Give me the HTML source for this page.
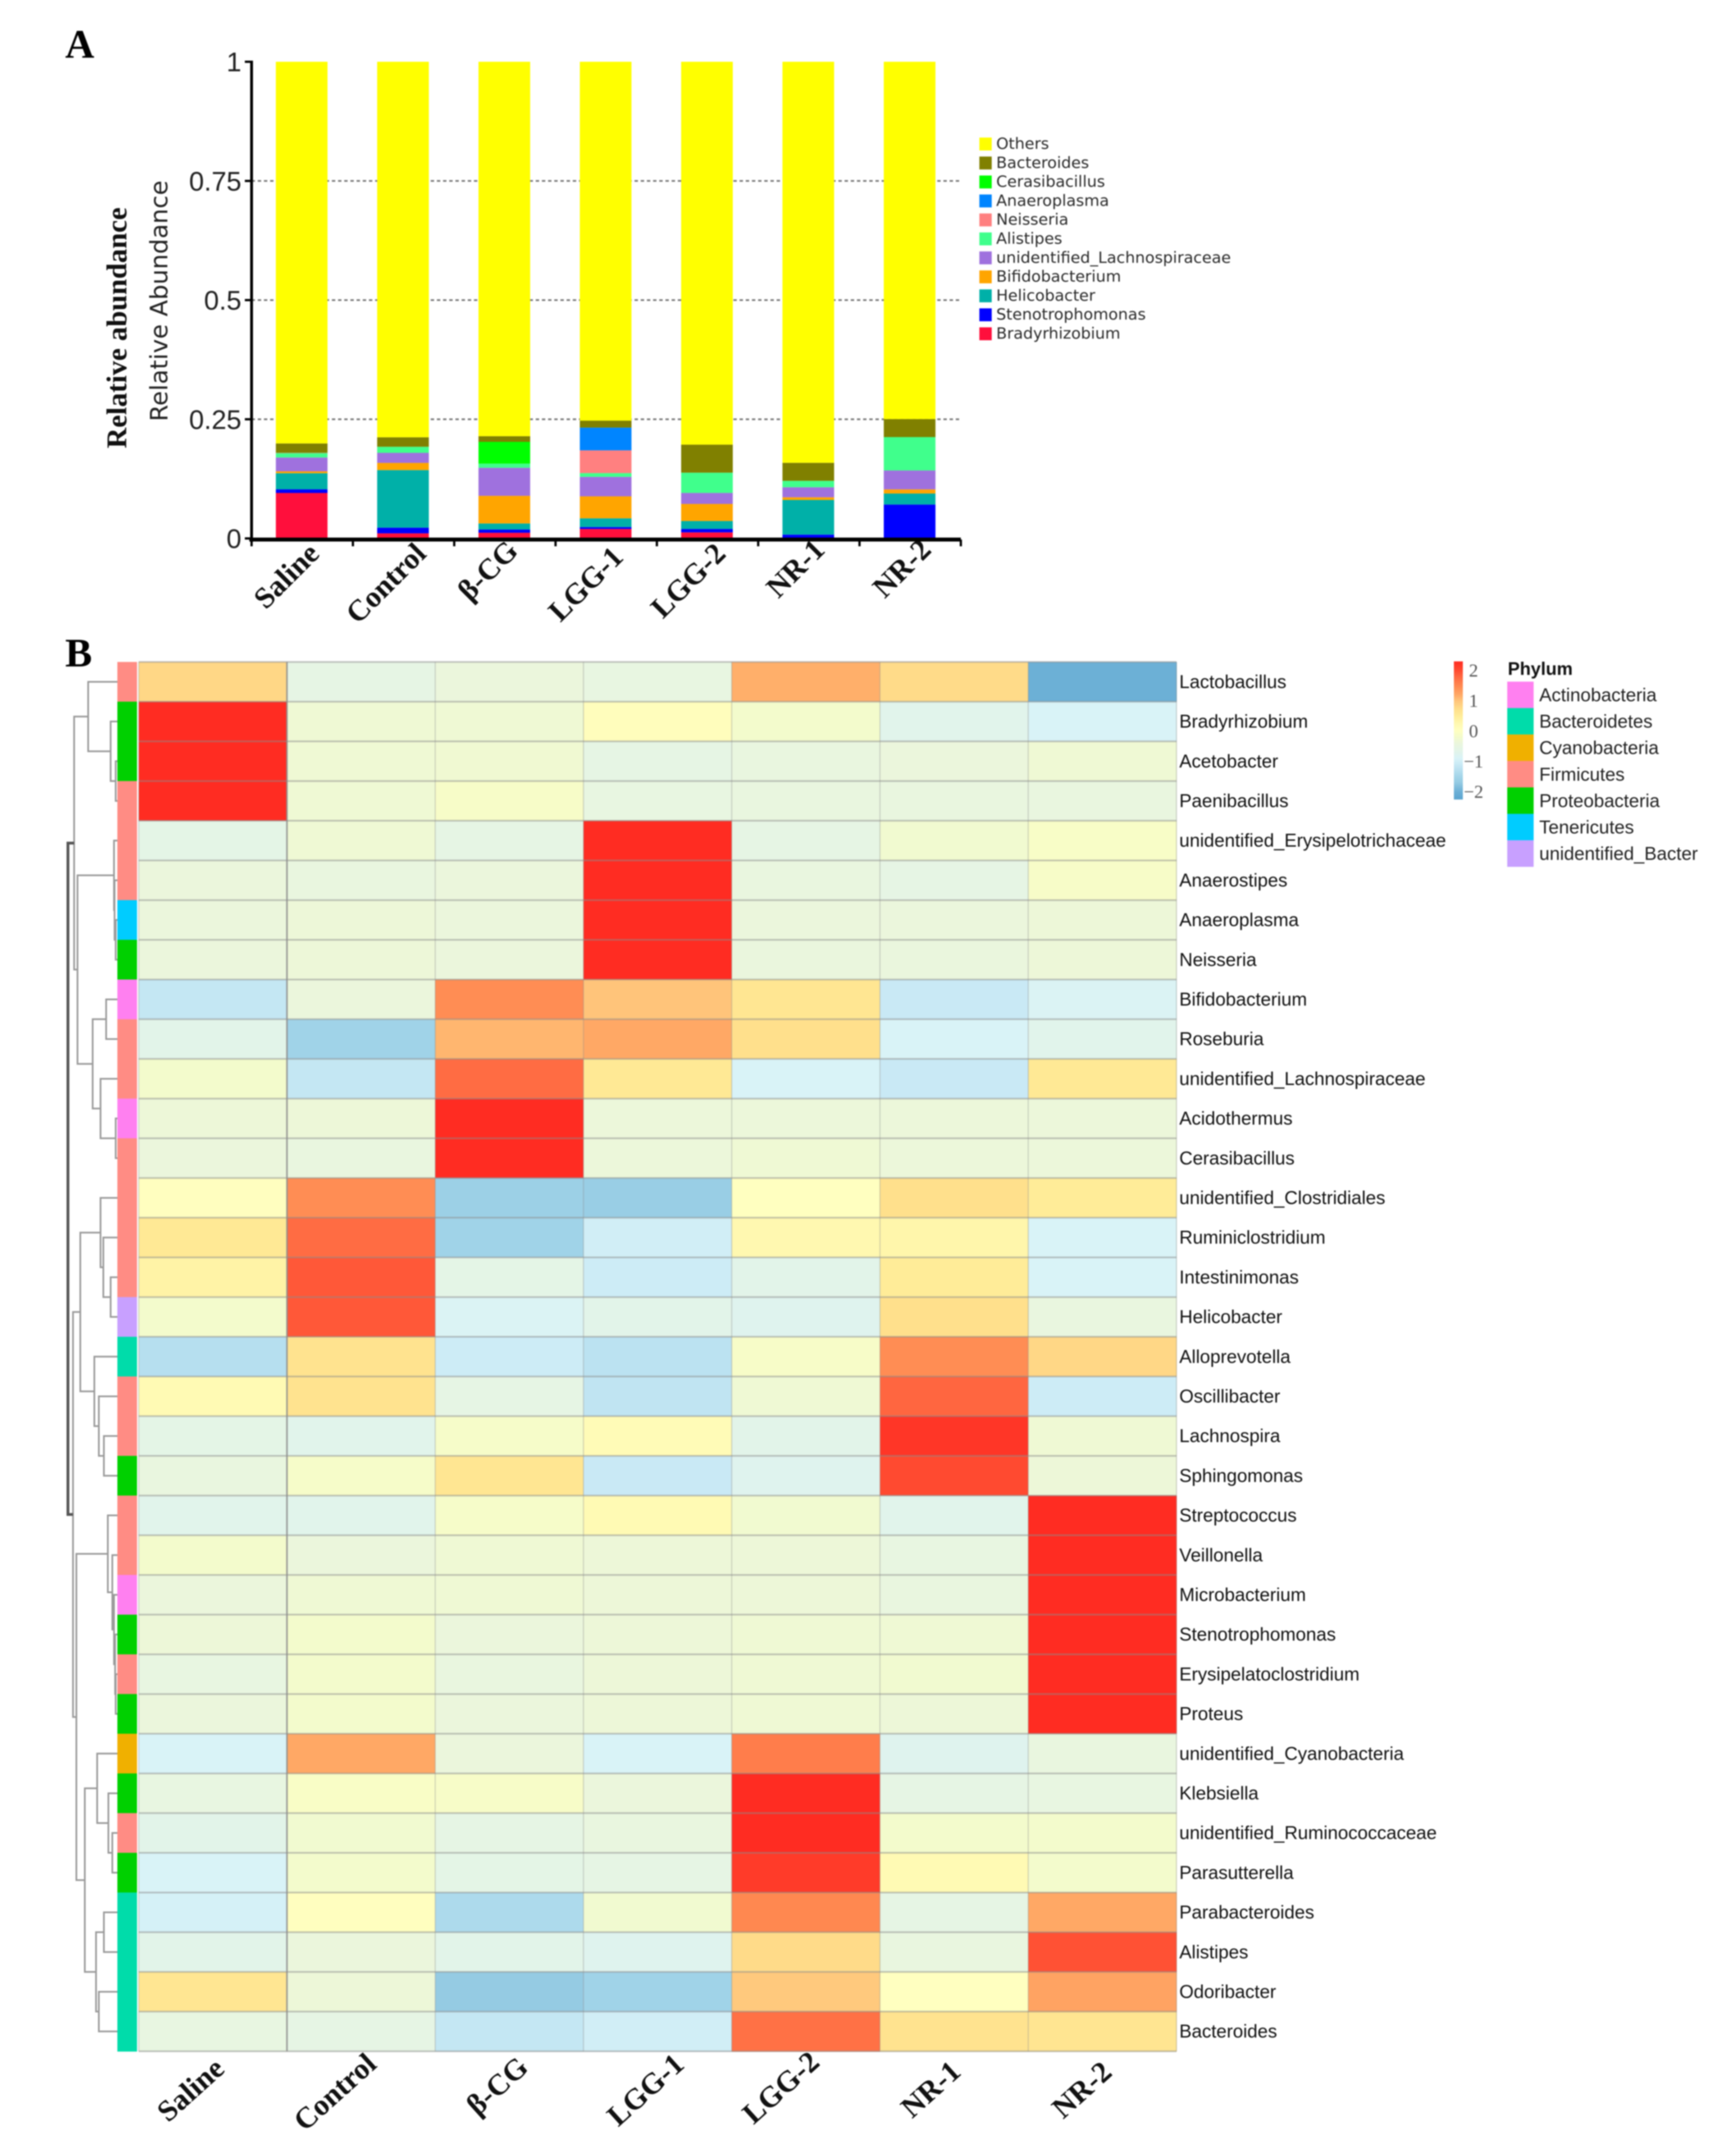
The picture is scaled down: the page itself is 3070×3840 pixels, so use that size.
<!DOCTYPE html>
<html lang="en">
<head>
<meta charset="utf-8">
<title>Relative abundance bar chart and phylum heatmap</title>
<style>
html,body{margin:0;padding:0;background:#fff;}
#figure{display:block;width:3070px;height:3840px;filter:blur(1.1px);}
</style>
</head>
<body>
<svg id="figure" xmlns="http://www.w3.org/2000/svg" width="3070" height="3840" viewBox="0 0 3070 3840">
  <rect x="0" y="0" width="3070" height="3840" fill="#ffffff"/>
  <text x="116" y="103" font-family="'Liberation Serif',serif" font-weight="700" font-size="72" fill="#000">A</text>
  <text x="116" y="1187" font-family="'Liberation Serif',serif" font-weight="700" font-size="72" fill="#000">B</text>
  <g id="panelA">
    <text transform="translate(225,584) rotate(-90)" text-anchor="middle" font-family="'Liberation Serif',serif" font-weight="700" font-size="51" fill="#111">Relative abundance</text>
    <text transform="translate(298,536) rotate(-90)" text-anchor="middle" font-family="'DejaVu Sans',sans-serif" font-size="43" fill="#222">Relative Abundance</text>
  </g>
  <g id="panelB">
    <text x="2685" y="1202" font-family="'Liberation Sans',sans-serif" font-weight="700" font-size="32" fill="#111">Phylum</text>
  </g>
</svg>
<script>
/* ---------- Panel A data ---------- */
var barCategories = ['Saline','Control','β-CG','LGG-1','LGG-2','NR-1','NR-2'];
var yTickValues = [0,0.25,0.5,0.75,1];
var yTickLabels = ['0','0.25','0.5','0.75','1'];
var gridValues = [0.25,0.5,0.75];
var bradyrhizobiumValues    = [0.0954,0.0107,0.0119,0.0199,0.0127,0.0000,0.0000];
var stenotrophomonasValues  = [0.0076,0.0119,0.0068,0.0040,0.0072,0.0080,0.0711];
var helicobacterValues      = [0.0338,0.1208,0.0127,0.0183,0.0167,0.0727,0.0231];
var bifidobacteriumValues   = [0.0040,0.0151,0.0580,0.0461,0.0358,0.0056,0.0087];
var lachnospiraceaeValues   = [0.0290,0.0211,0.0588,0.0409,0.0231,0.0211,0.0397];
var alistipesValues         = [0.0087,0.0127,0.0087,0.0079,0.0425,0.0135,0.0700];
var neisseriaValues         = [0.0005,0.0000,0.0000,0.0477,0.0000,0.0000,0.0000];
var anaeroplasmaValues      = [0.0003,0.0000,0.0000,0.0477,0.0000,0.0000,0.0000];
var cerasibacillusValues    = [0.0005,0.0000,0.0457,0.0000,0.0000,0.0000,0.0000];
var bacteroidesValues       = [0.0195,0.0199,0.0119,0.0147,0.0588,0.0378,0.0378];
var othersValues            = [0.8007,0.7878,0.7855,0.7528,0.8032,0.8413,0.7496];
var stackOrder = [
  ['Bradyrhizobium',bradyrhizobiumValues,'#ff0f3c'],
  ['Stenotrophomonas',stenotrophomonasValues,'#0000ff'],
  ['Helicobacter',helicobacterValues,'#00b0a8'],
  ['Bifidobacterium',bifidobacteriumValues,'#ffa500'],
  ['unidentified_Lachnospiraceae',lachnospiraceaeValues,'#9f71de'],
  ['Alistipes',alistipesValues,'#40ff8c'],
  ['Neisseria',neisseriaValues,'#ff8080'],
  ['Anaeroplasma',anaeroplasmaValues,'#0085ff'],
  ['Cerasibacillus',cerasibacillusValues,'#00ff00'],
  ['Bacteroides',bacteroidesValues,'#808000'],
  ['Others',othersValues,'#ffff00']
];

/* ---------- Panel B data ---------- */
var heatColumns = ['Saline','Control','β-CG','LGG-1','LGG-2','NR-1','NR-2'];
var heatRows = ['Lactobacillus','Bradyrhizobium','Acetobacter','Paenibacillus','unidentified_Erysipelotrichaceae','Anaerostipes','Anaeroplasma','Neisseria','Bifidobacterium','Roseburia','unidentified_Lachnospiraceae','Acidothermus','Cerasibacillus','unidentified_Clostridiales','Ruminiclostridium','Intestinimonas','Helicobacter','Alloprevotella','Oscillibacter','Lachnospira','Sphingomonas','Streptococcus','Veillonella','Microbacterium','Stenotrophomonas','Erysipelatoclostridium','Proteus','unidentified_Cyanobacteria','Klebsiella','unidentified_Ruminococcaceae','Parasutterella','Parabacteroides','Alistipes','Odoribacter','Bacteroides'];
var heatValues = [
[0.8,-0.55,-0.4,-0.5,1.15,0.75,-2.0],
[2.3,-0.3,-0.3,0.08,-0.2,-0.7,-0.9],
[2.3,-0.3,-0.28,-0.55,-0.45,-0.4,-0.3],
[2.3,-0.3,-0.12,-0.5,-0.45,-0.45,-0.45],
[-0.6,-0.3,-0.55,2.3,-0.55,-0.25,-0.1],
[-0.4,-0.45,-0.4,2.3,-0.45,-0.55,-0.12],
[-0.4,-0.35,-0.4,2.3,-0.4,-0.4,-0.35],
[-0.4,-0.35,-0.4,2.3,-0.42,-0.42,-0.35],
[-1.15,-0.4,1.45,1.0,0.6,-1.1,-0.85],
[-0.65,-1.55,1.1,1.2,0.7,-0.9,-0.7],
[-0.2,-1.15,1.75,0.55,-0.9,-1.1,0.55],
[-0.35,-0.35,2.3,-0.38,-0.38,-0.38,-0.38],
[-0.4,-0.45,2.3,-0.38,-0.3,-0.38,-0.38],
[0.05,1.45,-1.6,-1.65,0.03,0.7,0.5],
[0.55,1.75,-1.55,-1.0,0.25,0.3,-0.9],
[0.35,1.9,-0.6,-1.05,-0.65,0.5,-0.9],
[-0.2,1.9,-0.85,-0.65,-0.75,0.7,-0.45],
[-1.3,0.65,-1.05,-1.25,-0.12,1.45,0.8],
[0.2,0.65,-0.55,-1.2,-0.3,1.8,-1.05],
[-0.6,-0.7,-0.15,0.15,-0.65,2.2,-0.3],
[-0.45,-0.15,0.6,-1.1,-0.75,2.0,-0.35],
[-0.7,-0.7,-0.15,0.2,-0.25,-0.7,2.3],
[-0.2,-0.4,-0.3,-0.35,-0.35,-0.5,2.3],
[-0.4,-0.3,-0.3,-0.35,-0.35,-0.45,2.3],
[-0.35,-0.2,-0.4,-0.35,-0.3,-0.3,2.3],
[-0.5,-0.2,-0.45,-0.35,-0.3,-0.25,2.3],
[-0.4,-0.2,-0.4,-0.35,-0.3,-0.35,2.3],
[-0.9,1.2,-0.4,-0.9,1.6,-0.75,-0.45],
[-0.5,-0.08,-0.12,-0.4,2.3,-0.55,-0.5],
[-0.65,-0.25,-0.55,-0.45,2.3,-0.2,-0.2],
[-0.9,-0.2,-0.6,-0.55,2.15,0.2,-0.2],
[-0.95,0.05,-1.4,-0.25,1.5,-0.55,1.2],
[-0.65,-0.4,-0.65,-0.75,0.75,-0.45,1.95],
[0.6,-0.35,-1.7,-1.55,0.95,0.03,1.25],
[-0.5,-0.55,-1.15,-1.0,1.7,0.65,0.62]
];
var rowPhylum = ['Firmicutes','Proteobacteria','Proteobacteria','Firmicutes','Firmicutes','Firmicutes','Tenericutes','Proteobacteria','Actinobacteria','Firmicutes','Firmicutes','Actinobacteria','Firmicutes','Firmicutes','Firmicutes','Firmicutes','unidentified_Bacter','Bacteroidetes','Firmicutes','Firmicutes','Proteobacteria','Firmicutes','Firmicutes','Actinobacteria','Proteobacteria','Firmicutes','Proteobacteria','Cyanobacteria','Proteobacteria','Firmicutes','Proteobacteria','Bacteroidetes','Bacteroidetes','Bacteroidetes','Bacteroidetes'];
var phylumNames = ['Actinobacteria','Bacteroidetes','Cyanobacteria','Firmicutes','Proteobacteria','Tenericutes','unidentified_Bacter'];
var phylumColors = ['#ff80f0','#00dcaa','#f0b000','#ff8c84','#00d000','#00ccff','#c8a0ff'];
var colorbarTicks = [2,1,0,-1,-2];
var colorbarTickLabels = ['2','1','0','−1','−2'];
var colorScaleValues = [-2.3,-2,-1.7,-1.5,-1.2,-1.05,-0.9,-0.75,-0.6,-0.4,-0.2,0.03,0.25,0.5,0.7,1,1.2,1.5,1.8,2,2.3];
var colorScaleColors = ['#5aa4d0','#6cb0d6','#95cbe3','#a3d5e9','#c0e4f2','#cdecf6','#d9f3f7','#dff3ee','#e4f5e6','#ebf6dc','#f3fbcc','#ffffc0','#fff8b0','#ffec98','#ffe08c','#ffc47a','#ffa865','#ff8850','#ff6640','#ff4a30','#ff2c22'];
/* Row-clustering tree: [merge height, left, right]; leaves are row indexes */
var clusterTree = [88,
  [77,
    [52, 0, [12, 1, [3, 2, 3]]],
    [71,
      [6, 4, [5, 5, [3, 6, 7]]],
      [44,
        [20, 8, 9],
        [30, 10, [3, 11, 12]]
      ]
    ]
  ],
  [79,
    [66,
      [30, 13, [25, 14, [12, 15, 16]]],
      [41, 17, [33, 18, [24, 19, 20]]]
    ],
    [73,
      [17, 21, [9, 22, [6, 23, [4, 24, [3, 25, 26]]]]],
      [58,
        [36, 27, [16, 28, [9, 29, 30]]],
        [38, [24, 31, 32], [33, 33, 34]]
      ]
    ]
  ]
];

/* ---------- helpers ---------- */
var NS = 'http://www.w3.org/2000/svg';
var panelA = document.getElementById('panelA');
var panelB = document.getElementById('panelB');
function mk(tag, parent, attrs, txt){
  var e = document.createElementNS(NS, tag);
  for (var k in attrs) e.setAttribute(k, attrs[k]);
  if (txt !== undefined) e.textContent = txt;
  parent.appendChild(e);
  return e;
}
function slug(s){ return s.toLowerCase().replace(/[^a-z0-9]+/g,'-').replace(/^-|-$/g,''); }

/* ---------- Panel A scales ---------- */
var axisLeft = 448, axisRight = 1711, axisZero = 959, axisOne = 110, barWidth = 92;
function yScale(v){ return axisZero - v * (axisZero - axisOne); }
function bandWidth(){ return (axisRight - axisLeft) / barCategories.length; }
function xCenter(i){ return axisLeft + bandWidth() * (i + 0.5) - 1; }

gridValues.forEach(function(v){
  var el = mk('line', panelA, {x1:axisLeft, x2:axisRight, y1:yScale(v), y2:yScale(v), stroke:'#777', 'stroke-width':3, 'stroke-dasharray':'6 5'});
  
  
});

function barLabelDx(i){ return [0,10,-7,0,2,-2,7][i]; }
function barLabelDy(i){ return [12,12,7,18,12,5,5][i]; }
barCategories.forEach(function(cat, i){
  var cum = 0;
  stackOrder.forEach(function(s){
    var v = s[1][i];
    if (v <= 0) return;
    var y0 = yScale(Math.min(cum, 1)), y1 = yScale(Math.min(cum + v, 1));
    var el = mk('rect', panelA, {x:xCenter(i) - barWidth/2, y:y1, width:barWidth, height:Math.max(y0 - y1, 0), fill:s[2]});
    
    
    cum += v;
  });
  var lab = mk('text', panelA, {transform:'translate(' + (xCenter(i) + 34 + barLabelDx(i)) + ',' + (977 + barLabelDy(i)) + ') rotate(-45)', 'text-anchor':'end', 'font-family':"'Liberation Serif',serif", 'font-weight':700, 'font-size':53, fill:'#111'}, cat);
  
  
});

var yAxisLine = mk('line', panelA, {x1:axisLeft, x2:axisLeft, y1:axisOne - 2, y2:axisZero + 6, stroke:'#000', 'stroke-width':5});


var xAxisLine = mk('line', panelA, {x1:axisLeft - 4, x2:axisRight, y1:axisZero + 2, y2:axisZero + 2, stroke:'#000', 'stroke-width':7});



yTickValues.forEach(function(v, i){
  var t = mk('line', panelA, {x1:axisLeft - 12, x2:axisLeft, y1:yScale(v), y2:yScale(v), stroke:'#000', 'stroke-width':4});
  
  
  var lb = mk('text', panelA, {x:axisLeft - 18, y:yScale(v) + 17, 'text-anchor':'end', 'font-family':"'Liberation Sans',sans-serif", 'font-size':48, fill:'#222'}, yTickLabels[i]);
  
  
});
for (var xt = 0; xt <= barCategories.length; xt++){
  var tx = axisLeft + bandWidth() * xt;
  var tick = mk('line', panelA, {x1:tx, x2:tx, y1:axisZero + 2, y2:axisZero + 14, stroke:'#000', 'stroke-width':4});
  
  
}

/* Panel A legend (reverse stack order) */
stackOrder.slice().reverse().forEach(function(s, i){
  var ly = 245 + i * 33.8;
  var sw = mk('rect', panelA, {x:1744, y:ly, width:22, height:23, fill:s[2]});
  
  
  var tx2 = mk('text', panelA, {x:1774, y:ly + 20, 'font-family':"'DejaVu Sans',sans-serif", 'font-size':28, fill:'#2b2b2b'}, s[0]);
  
  
});

/* ---------- Panel B scales ---------- */
var heatLeft = 247, heatTop = 1179, colWidth = 264, rowHeight = 70.7, stripLeft = 209, stripWidth = 35;
function colX(i){ return heatLeft + i * colWidth; }
function rowY(i){ return heatTop + i * rowHeight; }
function hex(c){ return [parseInt(c.substr(1,2),16), parseInt(c.substr(3,2),16), parseInt(c.substr(5,2),16)]; }
function colorFor(v){
  var vs = colorScaleValues, cs = colorScaleColors;
  if (v <= vs[0]) return cs[0];
  if (v >= vs[vs.length-1]) return cs[cs.length-1];
  for (var i = 1; i < vs.length; i++){
    if (v <= vs[i]){
      var t = (v - vs[i-1]) / (vs[i] - vs[i-1]), a = hex(cs[i-1]), b = hex(cs[i]);
      return 'rgb(' + [0,1,2].map(function(k){ return Math.round(a[k] + (b[k]-a[k]) * t); }).join(',') + ')';
    }
  }
}

/* Heatmap cells */
heatValues.forEach(function(row, r){
  row.forEach(function(v, c){
    var cell = mk('rect', panelB, {x:colX(c), y:rowY(r), width:colWidth + 0.5, height:rowHeight + 0.5, fill:colorFor(v)});
    
    
  });
});
/* Grid lines */
for (var gr = 0; gr <= heatRows.length; gr++){
  var hl = mk('line', panelB, {x1:heatLeft, x2:colX(7), y1:rowY(gr), y2:rowY(gr), stroke:'#8c8c8c', 'stroke-opacity':0.5, 'stroke-width':3});
  
  
}
for (var gc = 0; gc <= heatColumns.length; gc++){
  var vl = mk('line', panelB, {x1:colX(gc), x2:colX(gc), y1:heatTop, y2:rowY(heatRows.length), stroke:'#8c8c8c', 'stroke-opacity':gc === 1 ? 0.8 : 0.35, 'stroke-width':gc === 1 ? 3 : 2});
  
  
}
/* Row annotation strip and labels */
rowPhylum.forEach(function(p, r){
  var st = mk('rect', panelB, {x:stripLeft, y:rowY(r), width:stripWidth, height:rowHeight + 0.5, fill:phylumColors[phylumNames.indexOf(p)]});
  
  
  var rl = mk('text', panelB, {x:2100, y:rowY(r) + rowHeight/2 + 11, 'font-family':"'Liberation Sans',sans-serif", 'font-size':33, fill:'#111'}, heatRows[r]);
  
  
});
/* Column labels */
function columnLabelDx(i){ return [7,0,25,25,2,5,10][i]; }
function columnLabelDy(i){ return [0,4,-7,0,-4,-1,0][i]; }
heatColumns.forEach(function(c, i){
  var cl = mk('text', panelB, {transform:'translate(' + (colX(i) + colWidth/2 - 35 + columnLabelDx(i)) + ',' + (3735 + columnLabelDy(i)) + ') rotate(-42)', 'text-anchor':'middle', 'font-family':"'Liberation Serif',serif", 'font-weight':700, 'font-size':53, fill:'#111'}, c);
  
  
});

/* Dendrogram drawn from the merge tree */
function dendroX(h){ return stripLeft - h; }
function drawNode(n){
  if (typeof n === 'number') return {x:stripLeft, y:rowY(n) + rowHeight/2};
  var a = drawNode(n[1]), b = drawNode(n[2]);
  var x = dendroX(n[0]);
  var isRoot = n === clusterTree;
  var p = mk('path', panelB, {d:'M' + a.x + ' ' + a.y + 'H' + x + 'V' + b.y + 'H' + b.x, fill:'none', stroke:isRoot ? '#555' : '#9a9a9a', 'stroke-width':isRoot ? 5 : 3});
  
  
  return {x:x, y:(a.y + b.y)/2};
}
drawNode(clusterTree);

/* Colorbar */
var cbTop = 1178, cbBottom = 1424, cbZero = 1302, cbUnit = 54;
function cbY(v){ return cbZero - v * cbUnit; }
var defs = mk('defs', document.getElementById('figure'), {});
var grad = mk('linearGradient', defs, {id:'cbGrad', x1:0, y1:0, x2:0, y2:1});
colorScaleValues.slice().reverse().forEach(function(v){
  var off = (cbY(v) - cbTop) / (cbBottom - cbTop);
  mk('stop', grad, {offset:Math.max(0, Math.min(1, off)), 'stop-color':colorFor(v)});
});
var cb = mk('rect', panelB, {x:2589, y:cbTop, width:16, height:cbBottom - cbTop, fill:'url(#cbGrad)'});


colorbarTicks.forEach(function(v, i){
  var ct = mk('text', panelB, {x:2624, y:cbY(v) + 11, 'text-anchor':'middle', 'font-family':"'Liberation Serif',serif", 'font-size':33, fill:'#555'}, colorbarTickLabels[i]);
  
  
});

/* Phylum legend */
phylumNames.forEach(function(p, i){
  var ly = 1214 + i * 47.1;
  var sw = mk('rect', panelB, {x:2684, y:ly, width:47, height:47.3, fill:phylumColors[i]});
  
  
  var lb = mk('text', panelB, {x:2741, y:ly + 35, 'font-family':"'Liberation Sans',sans-serif", 'font-size':33, fill:'#222'}, p);
  
  
});
</script>
</body>
</html>
